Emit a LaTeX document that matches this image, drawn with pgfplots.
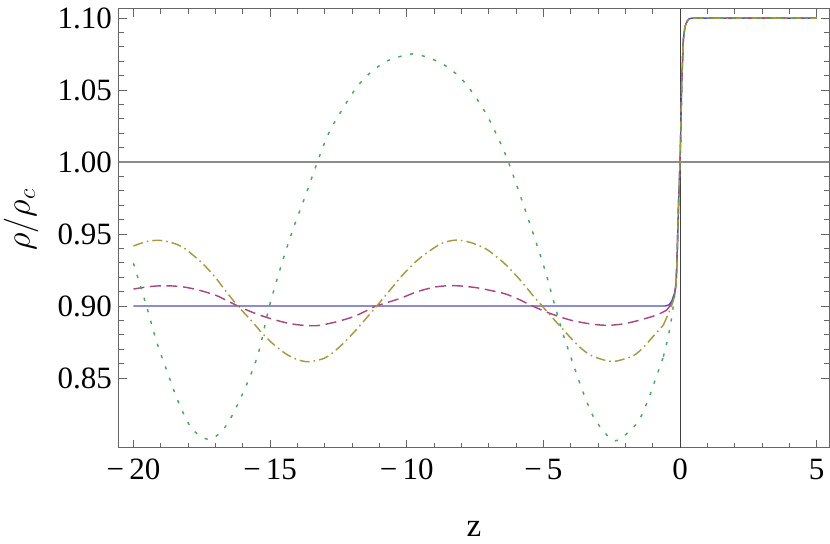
\documentclass[border=0pt]{standalone}
\usepackage{fontspec}
\setmainfont{Liberation Serif}
\usepackage{pgfplots}
\pgfplotsset{compat=1.18}
\definecolor{mblue}{HTML}{4E4EB8}
\definecolor{mpurple}{HTML}{AA4780}
\definecolor{molive}{HTML}{A8983F}
\definecolor{mgreen}{HTML}{45A85C}
\newcommand{\ticksize}{\fontsize{15.5}{18}\selectfont}

\begin{document}
\begin{tikzpicture}
\begin{axis}[
  scale only axis, width=355pt, height=219.5pt,
  xmin=-20.53, xmax=5.45, ymin=0.8014, ymax=1.1063,
  axis line style={black!60, line width=0.5pt},
  xtick={-20,-15,-10,-5,0,5},
  xticklabels={−\,20,−\,15,−\,10,−\,5,0,5},
  minor x tick num=4,
  ytick={0.85,0.90,0.95,1.00,1.05,1.10},
  yticklabels={0.85,0.90,0.95,1.00,1.05,1.10},
  minor y tick num=4,
  major tick length=4pt, minor tick length=2.5pt,
  tick style={black!60, line width=0.5pt},
  tick label style={font=\ticksize},
  xticklabel style={yshift=-2pt},
  xlabel={z}, ylabel={$\rho/\rho_c$},
  label style={font=\fontsize{16.5}{19}\selectfont},
  xlabel style={at={([yshift=-44.5pt]axis description cs:0.5,0)}, anchor=base},
  ylabel style={at={([xshift=-49pt]axis description cs:0,0.52)}, anchor=center},
  every axis plot/.append style={line width=0.72pt},
]
% axes through (0,1)
\addplot[black!45, line width=0.7pt] coordinates {(-20.53,1) (5.45,1)};
\addplot[black!75, line width=0.5pt] coordinates {(0,0.8014) (0,1.1063)};

% blue, solid
\addplot[mblue] coordinates {
(-20,0.9) (-0.55,0.9) (-0.4,0.9008) (-0.3,0.9035) (-0.2,0.909)
(-0.15,0.915) (-0.12,0.927) (-0.085,0.95) (-0.05,0.974) (0,1.0)
(0.025,1.02) (0.06,1.055) (0.12,1.085) (0.18,1.094) (0.25,1.0975)
(0.33,1.0995) (0.45,1.1) (5,1.1)};

% purple, dashed
\addplot[mpurple, smooth, dash pattern=on 5.5pt off 2.8pt] coordinates {
(-20.0,0.9118) (-19.45,0.9134) (-18.9,0.9141) (-18.23,0.9134) (-17.62,0.9111)
(-17.01,0.9076) (-16.6,0.9040) (-16.18,0.9000) (-15.55,0.8949) (-14.94,0.8910)
(-14.33,0.8880) (-13.9,0.8868) (-13.48,0.8863) (-13.17,0.8866) (-12.56,0.8891)
(-11.95,0.8926) (-11.5,0.8965) (-11.12,0.9000) (-10.24,0.9053) (-9.63,0.9099) (-8.9,0.9134)
(-8.2,0.9141) (-7.44,0.9127) (-6.71,0.9099) (-6.34,0.9081) (-5.85,0.9042)
(-5.4,0.9000) (-4.76,0.8949) (-4.02,0.8903) (-3.29,0.8876) (-2.68,0.8866)
(-2.07,0.8876) (-1.46,0.8903) (-0.85,0.8938) (-0.49,0.8972)};
\addplot[mpurple, dash pattern=on 5.5pt off 2.8pt] coordinates {
(-0.49,0.8972) (-0.35,0.9005)
(-0.25,0.9045) (-0.18,0.910) (-0.15,0.915) (-0.12,0.927) (-0.085,0.95)
(-0.05,0.974) (0,1.0) (0.025,1.02) (0.06,1.055) (0.12,1.085) (0.18,1.094)
(0.25,1.0975) (0.33,1.0995) (0.45,1.1) (5,1.1)};

% olive, dash-dot
\addplot[molive, smooth, dash pattern=on 5pt off 2pt on 0.8pt off 2pt] coordinates {
(-20.0,0.9417) (-19.45,0.9451) (-18.9,0.9453) (-18.23,0.9412) (-17.5,0.9300)
(-17.01,0.9200) (-16.71,0.9125) (-16.18,0.9000) (-15.67,0.8895) (-15.31,0.8815)
(-14.94,0.8745) (-14.45,0.8671) (-14.03,0.8630) (-13.6,0.8613) (-13.05,0.8635)
(-12.69,0.8678) (-12.2,0.8764) (-11.71,0.8865) (-11.1,0.9000)
(-10.55,0.9125) (-10.12,0.9222) (-9.63,0.9315) (-9.21,0.9377) (-8.72,0.9435)
(-8.2,0.9458) (-7.68,0.9442) (-7.13,0.9400) (-6.71,0.9342) (-6.34,0.9280)
(-5.85,0.9181) (-5.37,0.9070) (-5.0,0.8990) (-4.51,0.8885) (-3.78,0.8735)
(-3.29,0.8660) (-2.68,0.8620) (-2.32,0.8618) (-1.71,0.8655) (-1.34,0.8713)
(-0.98,0.8790) (-0.61,0.8868)};
\addplot[molive, dash pattern=on 5pt off 2pt on 0.8pt off 2pt] coordinates {
(-0.61,0.8868) (-0.37,0.8972) (-0.25,0.9035) (-0.18,0.909)
(-0.15,0.915) (-0.12,0.927) (-0.085,0.95) (-0.05,0.974) (0,1.0)
(0.025,1.02) (0.06,1.055) (0.12,1.085) (0.18,1.094) (0.25,1.0975)
(0.33,1.0995) (0.45,1.1) (5,1.1)};

% green, dotted
\addplot[mgreen, smooth, dash pattern=on 1.6pt off 4.4pt] coordinates {
(-20.0,0.9297) (-19.51,0.8990) (-19.15,0.8750) (-18.72,0.8520) (-18.36,0.8335)
(-17.87,0.8150) (-17.22,0.8074) (-16.59,0.8174) (-15.92,0.8428) (-15.43,0.8672)
(-15.04,0.8990) (-14.57,0.9297) (-14.15,0.9540) (-13.7,0.9770) (-13.29,0.9990) (-12.81,1.0218)
(-11.95,1.0488) (-11.40,1.0609) (-10.73,1.0701) (-9.92,1.0748) (-9.51,1.0743)
(-8.72,1.0685) (-8.05,1.0588) (-7.53,1.0465) (-7.07,1.0326) (-6.71,1.0188)
(-6.3,1.0010) (-5.60,0.9630) (-5.0,0.9285) (-4.57,0.8995) (-4.27,0.8799)
(-3.96,0.8625) (-3.60,0.8428) (-3.17,0.8231)
(-2.62,0.8092) (-2.26,0.8069) (-1.58,0.8185) (-1.22,0.8324) (-0.91,0.8486)
(-0.61,0.8648)};
\addplot[mgreen, dash pattern=on 1.6pt off 4.4pt] coordinates {
(-0.61,0.8648) (-0.43,0.8787) (-0.30,0.8926) (-0.2,0.907) (-0.15,0.917)
(-0.12,0.927) (-0.085,0.95) (-0.05,0.974) (0,1.0) (0.025,1.02) (0.06,1.055)
(0.12,1.085) (0.18,1.094) (0.25,1.0975) (0.33,1.0995) (0.45,1.1) (5,1.1)};
\end{axis}
\pgfresetboundingbox
\path[use as bounding box] (-59.5pt,-48pt) rectangle (355.5pt,224pt);
\end{tikzpicture}
\end{document}
